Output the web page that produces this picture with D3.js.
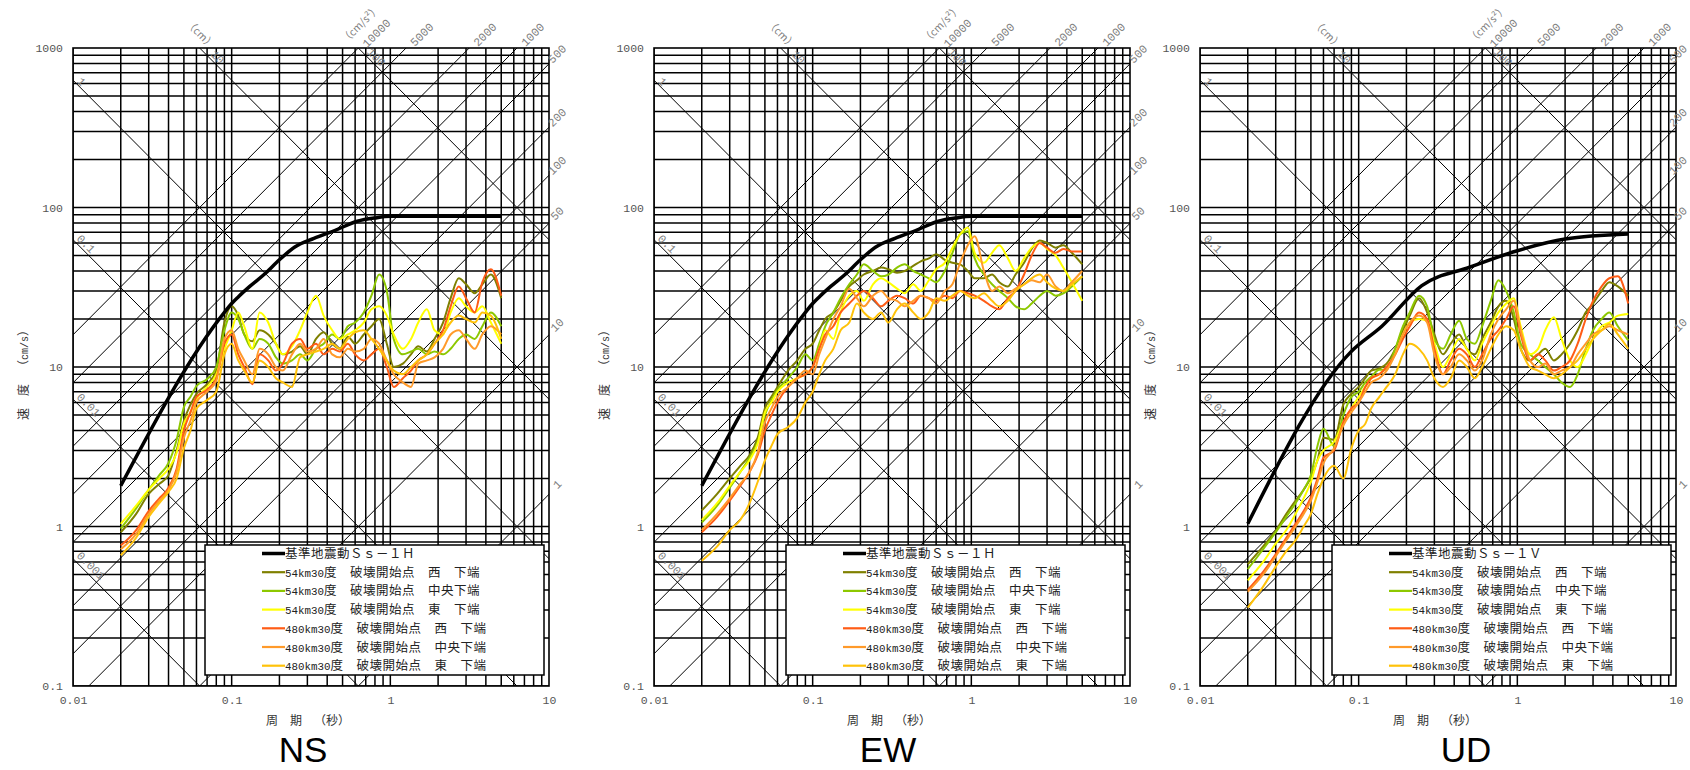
<!DOCTYPE html>
<html><head><meta charset="utf-8">
<script src="https://cdn.jsdelivr.net/npm/d3@7"></script>
<style>html,body{margin:0;padding:0;background:#fff;}svg{display:block;}</style>
</head><body>
<svg id="c" width="1690" height="770"></svg>
<script>
// ---------------- data ----------------
const periods = [0.02,0.025,0.03,0.035,0.04,0.045,0.05,0.055,0.06,0.07,0.08,0.09,0.1,0.11,0.12,0.135,0.15,0.17,0.19,0.21,0.24,0.27,0.3,0.34,0.38,0.43,0.48,0.54,0.6,0.68,0.76,0.85,0.95,1.05,1.2,1.35,1.5,1.7,1.9,2.15,2.4,2.7,3.0,3.4,3.8,4.3,5.0];

const ssHPeriods = [0.02,0.09,0.1,0.11,0.13,0.16,0.2,0.25,0.33,0.45,0.62,0.8,1.0,5.0];
const ssHValues  = [1.8,22,25,27.5,32,38,47,56.5,64,72,82,86,88,88];
const ssVPeriods = [0.02,0.089,0.14,0.25,0.5,1.0,2.0,5.0];
const ssVValues  = [1.04,12.4,18,32.4,42.2,53.6,63.4,68.1];

// NS
const nsW54  = [0.92,1.2,1.6,1.85,2.1,3.0,4.6,5.8,6.8,7.8, 9.5,19,24,21,16,14.5,17,16,14,12, 12.5,13.5,12,15,16.5,14,13,15.5,14,16, 18,20,14,10,10.5,12,13.5,12.5,15,19, 27,36,33,29,33,38,27];
const nsC54  = [0.97,1.3,1.7,2.1,2.5,3.5,5.6,6.5,7.6,8.4, 10,17,22,20,16,13,15,14,11.5,10.5, 11,12,11,13,14,16,15,18,19,22, 28,38,30,15,12,12.5,13,12,12.5,12, 13,15,16,15,18,22,18];
const nsE54  = [1.04,1.35,1.7,2.0,2.3,2.9,4.4,5.2,6.3,7.5, 9,13,17,22,18,13,22,19,14,12, 13.5,17,22,28,21,17,15,16,17,19, 23,24,21,16,13,15,19,23,17,16, 22,27,24,22,24,19,14];
const nsW480 = [0.76,0.95,1.25,1.5,1.75,2.3,4.0,5.2,6.5,7.2, 8.5,14,16,12,10,7.8,12,11,9.5,10.5, 14,15,13,14,12,13,12.5,14,12,11, 12,13,10,7.5,8.5,9.5,11,12,14,17, 24,32,27,22,34,41,28];
const nsC480 = [0.72,0.9,1.2,1.45,1.7,2.2,3.6,4.6,6.0,7.0, 8.2,15,17,13,11,9,13,12,10,9.5, 12,14,12.5,13,15,12,11.5,13,12.5,13, 15,14,11,9,8,7.5,10.5,11,11.5,13, 16,17,15,13,16,18,16];
const nsE480 = [0.66,0.85,1.15,1.4,1.65,2.0,3.1,4.0,5.5,6.2, 7.0,12,14,11,9.5,8,11,10,8.5,8, 7.5,11.5,12,12.5,13,14,13,15,16.5,17, 15,13,11,9.5,9,10,11,12,14,16, 19,21,20,19,22,21,15];
// EW
const ewW54  = [1.26,1.6,2.0,2.4,2.8,3.6,5.5,6.5,7.5,9.5, 11,13,14,17,20,22,26,32,35,38, 40,42,41,39,40,43,46,48,51,47, 45,44,40,36,36,38,34,32,38,45, 55,62,60,56,58,52,44];
const ewC54  = [1.06,1.35,1.75,2.2,2.7,3.4,5.0,6.2,7.2,8.5, 10,12,11,14,18,22,27,33,38,44, 40,37,38,42,44,40,38,36,34,40, 52,68,71,48,38,33,30,27,24,23, 25,28,30,28,29,32,37];
const ewE54  = [1.1,1.4,1.8,2.2,2.6,3.3,5.2,6.0,7.0,8.0, 8.5,9,10,13,17,15,22,28,30,26, 33,36,34,31,29,33,30,35,41,45, 56,68,75,52,45,52,58,48,40,48, 56,60,55,50,42,34,26];
const ewW480 = [0.92,1.15,1.45,1.8,2.2,2.8,4.0,5.0,6.0,7.5, 8.5,9,10,13,16,18,22,25,28,30, 27,24,26,28,27,25,28,27,26,28, 27,30,29,28,26,24,23,27,30,38, 50,60,56,52,55,53,53];
const ewC480 = [0.95,1.2,1.5,1.85,2.2,2.9,4.5,5.5,6.5,7.5, 8.5,9.5,9,12,15,20,24,31,27,24, 28,30,27,26,24,26,28,27,25,30, 33,45,58,66,40,30,32,29,31,33, 35,34,38,32,30,34,40];
const ewE480 = [0.61,0.75,0.95,1.1,1.4,1.9,2.6,3.2,3.8,4.2, 4.8,6.0,7.0,9,11,13,17,19,25,22, 20,22,19,23,25,22,20,22,27,26, 28,30,28,27,29,26,24,26,30,33, 36,38,34,31,30,33,37];
// UD
const udW54  = [0.58,0.75,0.94,1.2,1.45,1.7,2.03,2.6,3.6,3.5, 5.8,6.8,7.5,8.5,9.5,9.8,10.5,13,17,21, 27,22,16,12,14,16,13,12,15,19, 24,26,20,13,11,12,13,11,12,14, 17,22,25,30,34,32,28];
const udC54  = [0.54,0.72,0.92,1.15,1.4,1.7,2.1,3.2,4.1,3.2, 5.0,6.5,7.0,8.0,8.7,9.6,9.6,13,18,22, 28,24,15,13,16,19.5,15,14,18,26, 35,30,22,14,12,11,10,9,8,7.5, 9,13,17,20,22,18,14.7];
const udE54  = [0.46,0.6,0.78,0.95,1.2,1.5,1.9,2.6,3.0,3.4, 4.5,5.5,6.5,7.5,8.5,9,10,12,16,19, 20,19.5,14,10,12,15,13,11,14,18, 22,25,27,18,12,13,17,20.5,15,11, 10,12,15,18,19,21,21.5];
const udW480 = [0.40,0.52,0.67,0.85,1.04,1.25,1.53,2.0,2.7,3.0, 4.5,5.5,6.0,7.5,8.5,9,10,12,15,18, 22,20,13,9,11,13,12,10,12,15, 17,20,24,16,11,12,11,9.5,10,11, 14,20,26,32,36,37,25];
const udC480 = [0.39,0.5,0.65,0.82,1.0,1.2,1.45,1.9,2.5,3.1, 4.3,5.2,6.0,7.0,8.0,8.5,9.5,12,16,19, 21,19,12,9,10,12,11,9.5,11,16, 20,23,26,17,11,10,10.5,9,9.5,10, 12,14,16,17,18,17,16];
const udE480 = [0.31,0.42,0.56,0.7,0.82,1.0,1.2,1.6,2.0,2.4, 2.0,3.1,4.0,4.4,5.5,6.5,7.5,9,12,14, 13,11,8.5,7.5,8.5,11,10,8.5,10,13, 16,18,17,13,10,9.5,9,8.5,9,10, 11,13,15,17,18.6,16,13];

const seriesNames = ["54km30度　破壊開始点　西　下端","54km30度　破壊開始点　中央下端","54km30度　破壊開始点　東　下端","480km30度　破壊開始点　西　下端","480km30度　破壊開始点　中央下端","480km30度　破壊開始点　東　下端"];
const seriesColors = ["#7f8000","#8dc800","#ffff00","#ff5c16","#ff9a2a","#ffc20a"];
const ssNames = ["基準地震動Ｓｓ－１Ｈ","基準地震動Ｓｓ－１Ｈ","基準地震動Ｓｓ－１Ｖ"];
const panelNames = ["NS","EW","UD"];

const xTicks = [0.01,0.1,1,10];
const xTickLabels = ["0.01","0.1","1","10"];
const yTicks = [0.1,1,10,100,1000];
const yTickLabels = ["0.1","1","10","100","1000"];
const accelLines = [1,10,50,100,200,500,1000,2000,5000,10000];
const accelRightLabels = [500,200,100,50,10,1];
const accelTopLabels = [10000,5000,2000,1000];
const dispLines = [0.001,0.01,0.1,1,10,100];
const dispLeftLabels = [1,0.1,0.01,0.001];
const dispLeftText = ["1","0.1","0.01","0.001"];
const dispTopLabels = [10,100];

const panelSeries = [
  {ssT:ssHPeriods, ssV:ssHValues, series:[nsW54,nsC54,nsE54,nsW480,nsC480,nsE480]},
  {ssT:ssHPeriods, ssV:ssHValues, series:[ewW54,ewC54,ewE54,ewW480,ewC480,ewE480]},
  {ssT:ssVPeriods, ssV:ssVValues, series:[udW54,udC54,udE54,udW480,udC480,udE480]}
];

// ---------------- layout ----------------
const W = 1690;
const layout = [{left:73,titleX:303},{left:654,titleX:888},{left:1200,titleX:1466}];
const plotW = 476, plotTop = 48, plotBottom = 686;
const JP = "'Noto Sans CJK JP','Noto Sans',sans-serif";
const MONO = "'Liberation Mono','DejaVu Sans Mono',monospace";

const svg = d3.select("#c");
svg.append("rect").attr("width",W).attr("height",770).attr("fill","#fff");
const defs = svg.append("defs");

// fixed-pitch text: half-width runs in a monospace face, full-width glyphs in cells
function monoText(g, str, x, y, cell, anchor){
  const chars = Array.from(str);
  const isHalf = c => c.charCodeAt(0) < 0x2000;
  const w = chars.map(c => isHalf(c) ? cell/2 : cell);
  const total = d3.sum(w);
  let acc = anchor==="end" ? x-total : anchor==="middle" ? x-total/2 : x;
  const t = g.append("text").attr("y", y);
  let k = 0;
  while (k < chars.length) {
    const half = isHalf(chars[k]);
    let run = [], xs = [];
    while (k < chars.length && isHalf(chars[k]) === half) {
      run.push(chars[k]); xs.push(acc.toFixed(2)); acc += w[k]; k++;
    }
    const ts = t.append("tspan").attr("x", xs.join(" ")).text(run.join(""));
    if (half) ts.attr("font-family", MONO).attr("font-size", (cell/2/0.6).toFixed(2));
  }
  return t;
}

layout.forEach((L, i) => {
  const left = L.left, right = left + plotW;
  const x = d3.scaleLog().domain([0.01,10]).range([left,right]);
  const y = d3.scaleLog().domain([0.1,1000]).range([plotBottom,plotTop]);
  const g = svg.append("g");
  defs.append("clipPath").attr("id","clip"+i).append("rect")
    .attr("x",left).attr("y",plotTop).attr("width",plotW).attr("height",plotBottom-plotTop);
  const plot = g.append("g").attr("clip-path",`url(#clip${i})`);

  // grid
  const xg = [], yg = [];
  [-2,-1,0].forEach(m => d3.range(1,10).forEach(k => xg.push(k*Math.pow(10,m))));
  [-1,0,1,2].forEach(m => d3.range(1,10).forEach(k => yg.push(k*Math.pow(10,m))));
  plot.selectAll(".vg").data(xg).join("line")
    .attr("x1",d=>x(d)).attr("x2",d=>x(d)).attr("y1",plotTop).attr("y2",plotBottom)
    .attr("stroke","#000").attr("stroke-width",1.5);
  plot.selectAll(".hg").data(yg).join("line")
    .attr("y1",d=>y(d)).attr("y2",d=>y(d)).attr("x1",left).attr("x2",right)
    .attr("stroke","#000").attr("stroke-width",1.5);

  // tripartite diagonals
  const TWO_PI = 2*Math.PI;
  plot.selectAll(".acc").data(accelLines).join("line")
    .attr("x1",x(0.001)).attr("y1",d=>y(d*0.001/TWO_PI))
    .attr("x2",x(100)).attr("y2",d=>y(d*100/TWO_PI))
    .attr("stroke","#000").attr("stroke-width",1);
  plot.selectAll(".dsp").data(dispLines).join("line")
    .attr("x1",x(0.001)).attr("y1",d=>y(TWO_PI*d/0.001))
    .attr("x2",x(100)).attr("y2",d=>y(TWO_PI*d/100))
    .attr("stroke","#000").attr("stroke-width",1);

  // data
  const line = d3.line().x(d=>x(d[0])).y(d=>y(d[1])).curve(d3.curveMonotoneX);
  const ps = panelSeries[i];
  ps.series.forEach((vals, s) => {
    plot.append("path").datum(periods.map((t,j)=>[t,vals[j]]))
      .attr("d",line).attr("fill","none").attr("stroke",seriesColors[s])
      .attr("stroke-width",2).attr("stroke-linejoin","round");
  });
  plot.append("path").datum(ps.ssT.map((t,j)=>[t,ps.ssV[j]]))
    .attr("d",line).attr("fill","none").attr("stroke","#000")
    .attr("stroke-width",3.5).attr("stroke-linejoin","round");

  // frame
  g.append("rect").attr("x",left).attr("y",plotTop).attr("width",plotW).attr("height",plotBottom-plotTop)
    .attr("fill","none").attr("stroke","#000").attr("stroke-width",1.6);

  // axes (labels only)
  const ax = g.append("g").attr("transform",`translate(0,${plotBottom})`)
    .call(d3.axisBottom(x).tickValues(xTicks).tickFormat((d,k)=>xTickLabels[k]).tickSize(0).tickPadding(10));
  const ay = g.append("g").attr("transform",`translate(${left},0)`)
    .call(d3.axisLeft(y).tickValues(yTicks).tickFormat((d,k)=>yTickLabels[k]).tickSize(0).tickPadding(10));
  [ax,ay].forEach(a => {
    a.select(".domain").remove();
    a.selectAll("text").attr("font-family",MONO).attr("font-size",11.5).attr("fill","#555");
  });

  // diagonal labels
  const lab = g.append("g").attr("font-family",MONO).attr("font-size",11.5).attr("fill","#808080");
  accelRightLabels.forEach(A => {
    const ye = y(A*10/TWO_PI);
    const half = (String(A).length*6.9/2 + 4)*0.707 + 1;
    const cx = Math.min(right+8, W - half - 1);
    lab.append("text").attr("transform",`translate(${cx},${ye-10}) rotate(-45)`)
      .attr("text-anchor","middle").attr("y",4).text(A);
  });
  accelTopLabels.forEach(A => {
    const xt = x(TWO_PI*1000/A);
    const Lh = String(A).length*6.9;
    lab.append("text").attr("transform",`translate(${xt+6+Lh*0.35},${plotTop-8-Lh*0.2}) rotate(-45)`)
      .attr("text-anchor","middle").attr("y",4).text(A);
  });
  const x10k = x(TWO_PI*1000/10000);
  lab.append("text").attr("transform",`translate(${x10k+2},${plotTop-24}) rotate(-45)`)
    .attr("text-anchor","middle").attr("y",4).attr("font-family",JP).attr("font-size",10.5).text("（cm/s²）");
  dispLeftLabels.forEach((D,k) => {
    const yl = y(TWO_PI*D/0.01);
    const Lh = dispLeftText[k].length*6.9;
    lab.append("text").attr("transform",`translate(${left+6+Lh*0.35},${yl+Lh*0.2}) rotate(45)`)
      .attr("text-anchor","middle").attr("y",4).text(dispLeftText[k]);
  });
  dispTopLabels.forEach(D => {
    const xt = x(TWO_PI*D/1000);
    lab.append("text").attr("transform",`translate(${xt+18},${plotTop+9}) rotate(45)`)
      .attr("text-anchor","middle").attr("y",4).text(D);
  });
  const xd10 = x(TWO_PI*10/1000);
  lab.append("text").attr("transform",`translate(${xd10+1},${plotTop-14}) rotate(45)`)
    .attr("text-anchor","middle").attr("y",4).attr("font-family",JP).attr("font-size",10.5).text("（cm）");

  // axis titles
  const tt = g.append("g").attr("font-family",JP).attr("font-size",12).attr("fill","#333");
  monoText(tt, "周　期　（秒）", left+193, 725, 12, "start");
  const yt = tt.append("g").attr("transform",`translate(${left-45},420) rotate(-90)`);
  monoText(yt, "速　度　（cm/s）", 0, 0, 12, "start");

  // legend
  const lx = left+132, ly = 545, lw = 339, lh = 130;
  const lg = g.append("g");
  lg.append("rect").attr("x",lx).attr("y",ly).attr("width",lw).attr("height",lh)
    .attr("fill","#fff").attr("stroke","#000").attr("stroke-width",1.5);
  const names = [ssNames[i]].concat(seriesNames);
  const cols = ["#000"].concat(seriesColors);
  const lt = lg.append("g").attr("font-family",JP).attr("font-size",12.5).attr("fill","#222");
  names.forEach((n,k) => {
    const ry = ly + 8.5 + k*18.7;
    lg.append("line").attr("x1",lx+57).attr("x2",lx+80).attr("y1",ry).attr("y2",ry)
      .attr("stroke",cols[k]).attr("stroke-width",k===0?3.5:2.2);
    monoText(lt, n, lx+80, ry+4.5, 13, "start");
  });

  // panel title
  g.append("text").attr("x",L.titleX).attr("y",762).attr("text-anchor","middle")
    .attr("font-family","'Liberation Sans',Arial,sans-serif").attr("font-size",35)
    .attr("fill","#000").text(panelNames[i]);
});
</script>
</body></html>
